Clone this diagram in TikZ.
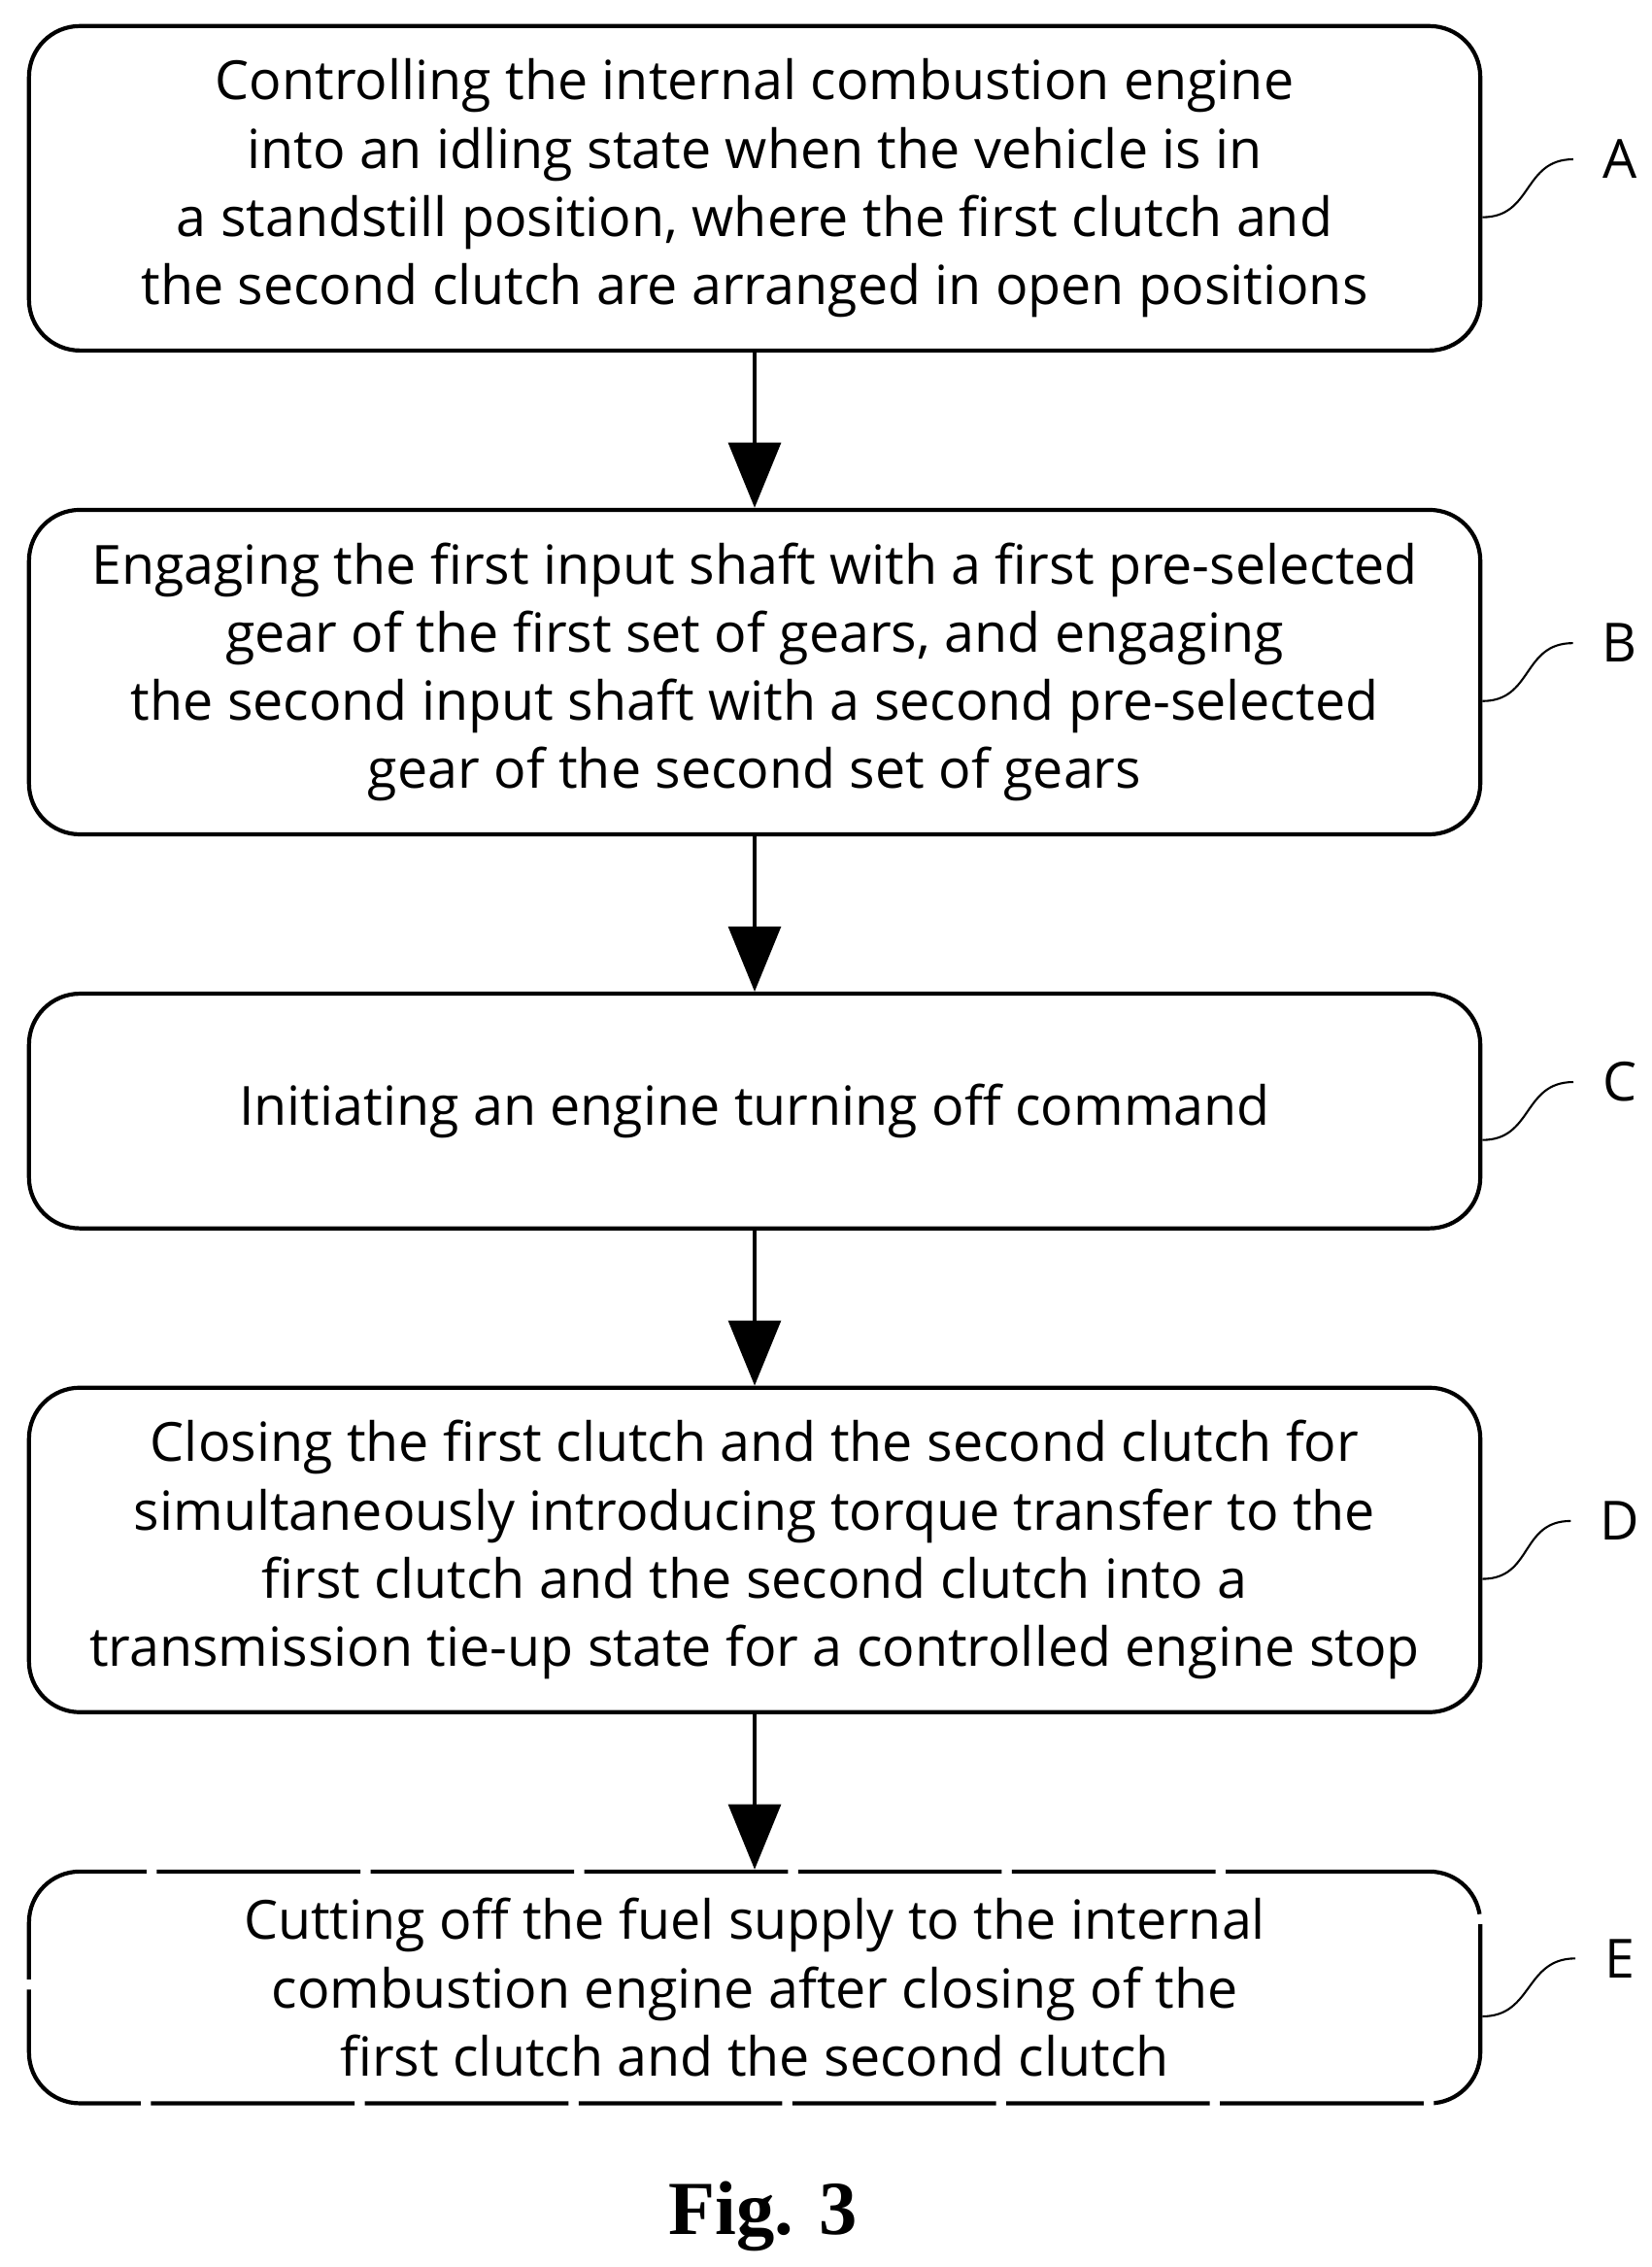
\documentclass[tikz,border=0pt]{standalone}
\usepackage{fontspec}
\setmainfont{Open Sans}
\newfontfamily\figfont{Liberation Serif}
\usetikzlibrary{positioning,arrows.meta}
\begin{document}
\begin{tikzpicture}[
    stepbox/.style={draw, thick, rounded corners=10pt, minimum width=10.02cm, align=center,
                 font=\fontsize{10.6pt}{13.4pt}\selectfont, inner sep=0pt},
    flow/.style={thick, -{Triangle[length=0.45cm, width=0.36cm]}},
    tag/.style={font=\fontsize{10.6pt}{13.4pt}\selectfont}
  ]
  \useasboundingbox (0,0) rectangle (11.40,15.65);

  \node[stepbox, minimum height=2.24cm] (a) at (5.21,14.35) {Controlling the internal combustion engine\\into an idling state when the vehicle is in\\a standstill position, where the first clutch and\\the second clutch are arranged in open positions};
  \node[stepbox, minimum height=2.24cm] (b) at (5.21,11.01) {Engaging the first input shaft with a first pre-selected\\gear of the first set of gears, and engaging\\the second input shaft with a second pre-selected\\gear of the second set of gears};
  \node[stepbox, minimum height=1.62cm] (c) at (5.21,7.98) {Initiating an engine turning off command};
  \node[stepbox, minimum height=2.24cm] (d) at (5.21,4.95) {Closing the first clutch and the second clutch for\\simultaneously introducing torque transfer to the\\first clutch and the second clutch into a\\transmission tie-up state for a controlled engine stop};
  \node[stepbox, minimum height=1.60cm, dash pattern=on 40pt off 2pt] (e) at (5.21,1.93) {Cutting off the fuel supply to the internal\\combustion engine after closing of the\\first clutch and the second clutch};

  \draw[flow] (a) -- (b);
  \draw[flow] (b) -- (c);
  \draw[flow] (c) -- (d);
  \draw[flow] (d) -- (e);

  % step labels
  \foreach \n/\t in {a/A, b/B, c/C, d/D, e/E} {
    \node[tag] (l\n) at ([xshift=0.95cm, yshift=0.2cm]\n.east) {\t};
    \draw[thin] ([yshift=-0.2cm]\n.east) .. controls +(0.35,0) and +(-0.35,0) .. ([xshift=-0.08cm]l\n.west);
  }

  \node[font=\figfont\bfseries\fontsize{15pt}{17pt}\selectfont] (fig) at (5.27,0.35) {Fig. 3};
\end{tikzpicture}
\end{document}
